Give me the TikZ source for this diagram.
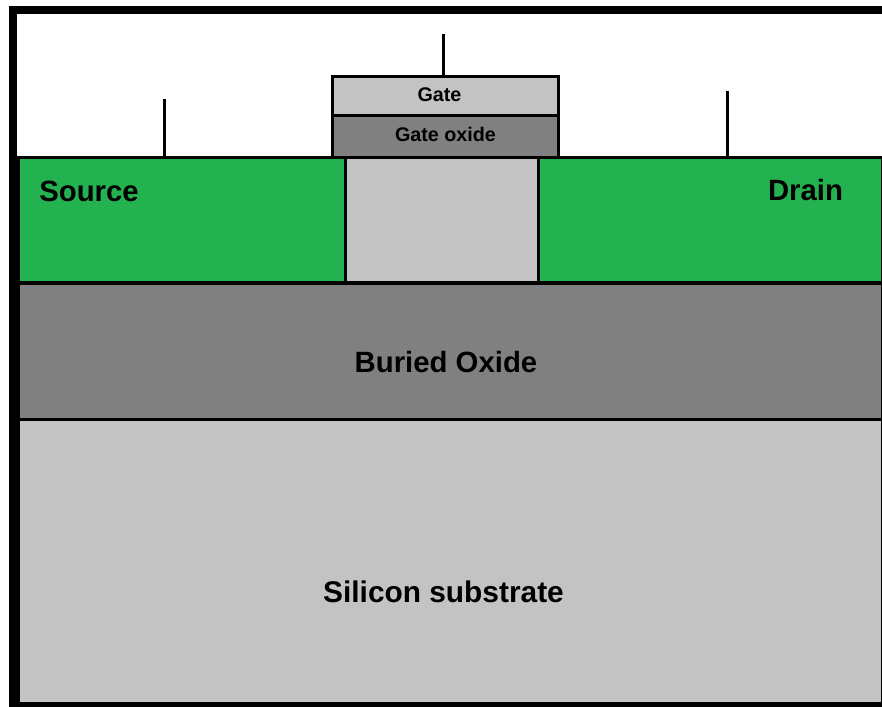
\documentclass[tikz,border=0pt]{standalone}
\usepackage{fontspec}
\setmainfont{Liberation Sans}
\definecolor{grn}{RGB}{36,178,80}
\definecolor{lgray}{RGB}{195,195,195}
\definecolor{dgray}{RGB}{128,128,128}
\tikzset{
  x=0.75pt,y=-0.75pt,
  layer/.style={draw=black,line width=2.25pt,inner sep=0pt,outer sep=0pt,anchor=north west},
  big/.style={font=\bfseries\fontsize{22}{24}\selectfont,inner sep=0pt,text=black},
  bigger/.style={font=\bfseries\fontsize{22.4}{24}\selectfont,inner sep=0pt,text=black},
  small/.style={font=\bfseries\fontsize{14.8}{16}\selectfont,inner sep=0pt,text=black},
  lead/.style={line width=2.25pt,line cap=butt}
}
\begin{document}
\begin{tikzpicture}
\useasboundingbox (0,0) rectangle (882,707);
\fill[white] (0,0) rectangle (882,707);
% layers
\node[layer,fill=lgray,minimum width=864*0.75pt,minimum height=284*0.75pt] (substrate) at (18.5,419) {};
\node[layer,fill=dgray,minimum width=864*0.75pt,minimum height=136*0.75pt] (box) at (18.5,283) {};
\node[layer,fill=grn,minimum width=326.5*0.75pt,minimum height=125.5*0.75pt] (source) at (18.5,157) {};
\node[layer,fill=lgray,minimum width=193.5*0.75pt,minimum height=125.5*0.75pt] (channel) at (345,157) {};
\node[layer,fill=grn,minimum width=344*0.75pt,minimum height=125.5*0.75pt] (drain) at (538.5,157) {};
\node[layer,fill=lgray,minimum width=226.5*0.75pt,minimum height=38.5*0.75pt] (gate) at (332,76.5) {};
\node[layer,fill=dgray,minimum width=226.5*0.75pt,minimum height=42*0.75pt] (gateox) at (332,115) {};
% leads
\coordinate (sT) at (164,99);
\coordinate (dT) at (727,91);
\coordinate (gT) at (443.5,34);
\coordinate (sB) at (164,157);
\coordinate (dB) at (727,157);
\coordinate (gB) at (443.5,76);
\draw[lead] (sT) -- (sB);
\draw[lead] (dT) -- (dB);
\draw[lead] (gT) -- (gB);
% frame
\fill[black] (9,6) rectangle (882,14);
\fill[black] (9,6) rectangle (17,707);
\fill[black] (9,155.5) rectangle (19.5,707);
\fill[black] (9,702.5) rectangle (882,707);
% labels
\node[big] (lsource) at (89,191) {Source};
\node[big] (ldrain) at (805.5,190) {Drain};
\node[big] (lbox) at (446,362) {Buried Oxide};
\node[bigger] (lsub) at (443.5,592) {Silicon substrate};
\node[small] (lgate) at (439.5,95) {Gate};
\node[small] (lox) at (445.5,134) {Gate oxide};
\end{tikzpicture}
\end{document}
